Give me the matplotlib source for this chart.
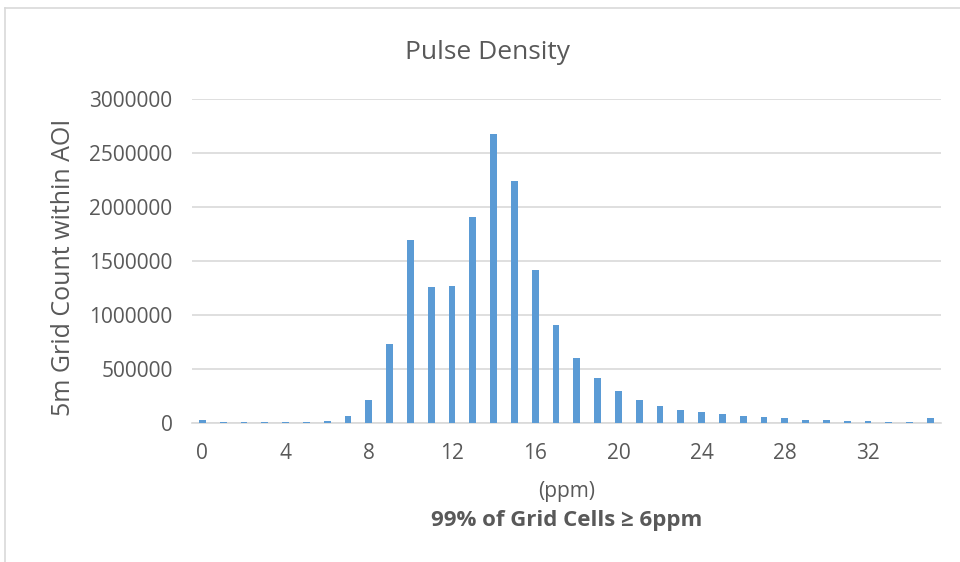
import numpy as np
import matplotlib.pyplot as plt
from matplotlib.lines import Line2D

# pulse density histogram (ppm bins 0..35)
ppm = list(range(36))
counts = [30000, 8000, 8000, 8000, 8000, 12000, 20000, 68000, 213000, 729000,
          1698000, 1259000, 1272000, 1911000, 2676000, 2238000, 1414000, 911000,
          602000, 417000, 296000, 216000, 161000, 124000, 105000, 87000, 68000,
          59000, 46000, 34000, 28000, 22000, 16000, 13000, 9000, 46000]
xticks = list(range(0, 33, 4))
yticks = list(range(0, 3000001, 500000))

txt = "#595959"
plt.rcParams['font.family'] = ['Open Sans', 'DejaVu Sans']

fig = plt.figure(figsize=(9.6, 5.62), dpi=100)
ax = fig.add_axes([0.2, 0.247, 0.78, 0.577])

ax.bar(ppm, counts, width=0.33, color="#5B9BD5", zorder=3)
ax.set_xlim(-0.5, 35.5)
ax.set_ylim(0, 3000000)
ax.set_xticks(xticks)
ax.set_yticks(yticks)
ax.set_yticklabels([str(v) for v in yticks])
ax.tick_params(axis="both", length=0, colors=txt, labelsize=15)
ax.tick_params(axis="x", pad=14)
ax.tick_params(axis="y", pad=14)
ax.grid(axis="y", color="#d9d9d9", linewidth=1.2, zorder=0)
for s in ["top", "right", "left"]:
    ax.spines[s].set_visible(False)
ax.spines["bottom"].set_color("#d9d9d9")
ax.spines["bottom"].set_linewidth(1.2)

fig.text(0.508, 0.907, "Pulse Density", ha="center", va="center", fontsize=19, color=txt)
fig.text(0.066, 0.525, "5m Grid Count within AOI", ha="center", va="center",
         rotation=90, fontsize=18, color=txt)
fig.text(0.59, 0.125, "(ppm)", ha="center", va="center", fontsize=15, color=txt)
fig.text(0.59, 0.074, "99% of Grid Cells \u2265 6ppm", ha="center", va="center",
         fontsize=16, color=txt, fontweight="bold")

# chart frame
fig.add_artist(Line2D([0.005, 1.0], [0.986, 0.986], color="#d9d9d9", lw=1.2))
fig.add_artist(Line2D([0.005, 0.005], [0.0, 0.986], color="#d9d9d9", lw=1.2))

fig.savefig("out.png", dpi=100)
